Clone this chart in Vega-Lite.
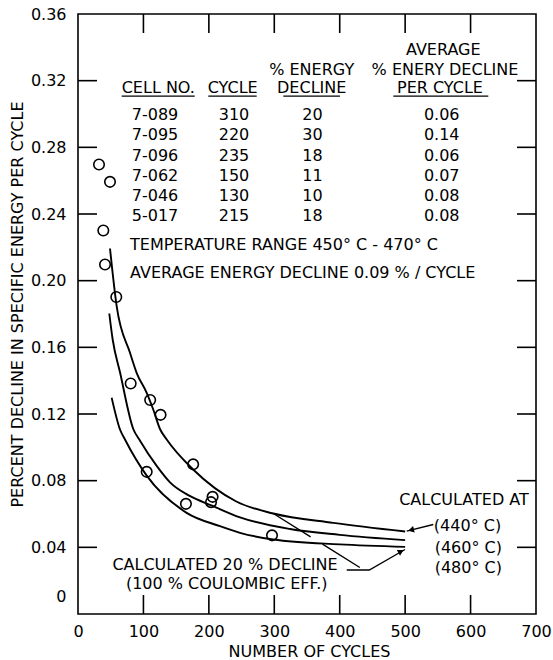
{
  "$schema": "https://vega.github.io/schema/vega-lite/v6.json",
  "width": 458,
  "height": 600,
  "autosize": {"type": "none"},
  "padding": {"left": 78, "top": 14, "right": 17, "bottom": 46},
  "background": "white",
  "config": {
    "view": {"stroke": "black", "strokeWidth": 1.6},
    "font": "DejaVu Sans",
    "text": {"font": "DejaVu Sans", "fontSize": 16, "color": "black"},
    "axis": {
      "domain": false,
      "ticks": false,
      "grid": false,
      "labelColor": "black",
      "labelFontSize": 16,
      "labelFont": "DejaVu Sans",
      "titleColor": "black",
      "titleFontSize": 16,
      "titleFont": "DejaVu Sans",
      "titleFontWeight": "normal",
      "labelFlush": false,
      "labelOverlap": false
    }
  },
  "datasets": {
    "pts": [
      {"c": 32.1, "v": 0.2697}, {"c": 48.9, "v": 0.2593}, {"c": 38.7, "v": 0.2301},
      {"c": 41.3, "v": 0.2097}, {"c": 58.5, "v": 0.1902}, {"c": 80.5, "v": 0.1383},
      {"c": 110.3, "v": 0.1284}, {"c": 126.2, "v": 0.1195}, {"c": 176, "v": 0.0898},
      {"c": 105, "v": 0.0853}, {"c": 165, "v": 0.0661}, {"c": 205.7, "v": 0.0703},
      {"c": 203.3, "v": 0.0671}, {"c": 296.5, "v": 0.0472}
    ],
    "curves": [
      {"t": "440", "c": 48.9, "v": 0.2193}, {"t": "440", "c": 59.1, "v": 0.1847},
      {"t": "440", "c": 79.5, "v": 0.1567}, {"t": "440", "c": 89.6, "v": 0.1447},
      {"t": "440", "c": 105, "v": 0.1327}, {"t": "440", "c": 115, "v": 0.1227},
      {"t": "440", "c": 125.3, "v": 0.111}, {"t": "440", "c": 135.6, "v": 0.1047},
      {"t": "440", "c": 176, "v": 0.0867}, {"t": "440", "c": 242, "v": 0.0675},
      {"t": "440", "c": 298.5, "v": 0.0603}, {"t": "440", "c": 390, "v": 0.0547},
      {"t": "440", "c": 500, "v": 0.0495},
      {"t": "460", "c": 47.8, "v": 0.1803}, {"t": "460", "c": 53, "v": 0.1647},
      {"t": "460", "c": 64.2, "v": 0.145}, {"t": "460", "c": 84.5, "v": 0.111},
      {"t": "460", "c": 94.8, "v": 0.104}, {"t": "460", "c": 120, "v": 0.089},
      {"t": "460", "c": 140.6, "v": 0.079}, {"t": "460", "c": 170, "v": 0.071},
      {"t": "460", "c": 205, "v": 0.065}, {"t": "460", "c": 247.6, "v": 0.058},
      {"t": "460", "c": 324, "v": 0.051}, {"t": "460", "c": 400, "v": 0.0475},
      {"t": "460", "c": 500, "v": 0.0443},
      {"t": "480", "c": 51.5, "v": 0.1297}, {"t": "480", "c": 64.2, "v": 0.1107},
      {"t": "480", "c": 71.8, "v": 0.1047}, {"t": "480", "c": 105, "v": 0.083},
      {"t": "480", "c": 166, "v": 0.0607}, {"t": "480", "c": 217, "v": 0.0527},
      {"t": "480", "c": 247.6, "v": 0.0487}, {"t": "480", "c": 298.5, "v": 0.0447},
      {"t": "480", "c": 400, "v": 0.0418}, {"t": "480", "c": 500, "v": 0.0403}
    ],
    "dash": [
      {"c": 298.5, "v": 0.0603}, {"c": 435.6, "v": 0.0267}
    ],
    "leaders": [
      {"g": "a", "o": 1, "c": 410.7, "v": 0.0264}, {"g": "a", "o": 2, "c": 445.2, "v": 0.0264},
      {"g": "a", "o": 3, "c": 499.8, "v": 0.0387},
      {"g": "b", "o": 1, "c": 543, "v": 0.0537}, {"g": "b", "o": 2, "c": 502.4, "v": 0.0497}
    ],
    "arrows": [
      {"c": 509, "v": 0.0504, "a": 256}, {"c": 493.6, "v": 0.0375, "a": 61}
    ],
    "tk": [
      {"g": "b1", "o": 1, "c": 100, "v": 0}, {"g": "b1", "o": 2, "c": 100, "v": 0.0114},
      {"g": "b2", "o": 1, "c": 200, "v": 0}, {"g": "b2", "o": 2, "c": 200, "v": 0.0114},
      {"g": "b3", "o": 1, "c": 300, "v": 0}, {"g": "b3", "o": 2, "c": 300, "v": 0.0114},
      {"g": "b4", "o": 1, "c": 400, "v": 0}, {"g": "b4", "o": 2, "c": 400, "v": 0.0114},
      {"g": "b5", "o": 1, "c": 500, "v": 0}, {"g": "b5", "o": 2, "c": 500, "v": 0.0114},
      {"g": "b6", "o": 1, "c": 600, "v": 0}, {"g": "b6", "o": 2, "c": 600, "v": 0.0114},
      {"g": "t1", "o": 1, "c": 100, "v": 0.36}, {"g": "t1", "o": 2, "c": 100, "v": 0.3486},
      {"g": "t2", "o": 1, "c": 200, "v": 0.36}, {"g": "t2", "o": 2, "c": 200, "v": 0.3486},
      {"g": "t3", "o": 1, "c": 300, "v": 0.36}, {"g": "t3", "o": 2, "c": 300, "v": 0.3486},
      {"g": "t4", "o": 1, "c": 400, "v": 0.36}, {"g": "t4", "o": 2, "c": 400, "v": 0.3486},
      {"g": "t5", "o": 1, "c": 500, "v": 0.36}, {"g": "t5", "o": 2, "c": 500, "v": 0.3486},
      {"g": "t6", "o": 1, "c": 600, "v": 0.36}, {"g": "t6", "o": 2, "c": 600, "v": 0.3486},
      {"g": "l1", "o": 1, "c": 0, "v": 0.04}, {"g": "l1", "o": 2, "c": 29, "v": 0.04},
      {"g": "l2", "o": 1, "c": 0, "v": 0.08}, {"g": "l2", "o": 2, "c": 29, "v": 0.08},
      {"g": "l3", "o": 1, "c": 0, "v": 0.12}, {"g": "l3", "o": 2, "c": 29, "v": 0.12},
      {"g": "l4", "o": 1, "c": 0, "v": 0.16}, {"g": "l4", "o": 2, "c": 29, "v": 0.16},
      {"g": "l5", "o": 1, "c": 0, "v": 0.2}, {"g": "l5", "o": 2, "c": 29, "v": 0.2},
      {"g": "l6", "o": 1, "c": 0, "v": 0.24}, {"g": "l6", "o": 2, "c": 29, "v": 0.24},
      {"g": "l7", "o": 1, "c": 0, "v": 0.28}, {"g": "l7", "o": 2, "c": 29, "v": 0.28},
      {"g": "l8", "o": 1, "c": 0, "v": 0.32}, {"g": "l8", "o": 2, "c": 29, "v": 0.32},
      {"g": "r1", "o": 1, "c": 700, "v": 0.04}, {"g": "r1", "o": 2, "c": 671, "v": 0.04},
      {"g": "r2", "o": 1, "c": 700, "v": 0.08}, {"g": "r2", "o": 2, "c": 671, "v": 0.08},
      {"g": "r3", "o": 1, "c": 700, "v": 0.12}, {"g": "r3", "o": 2, "c": 671, "v": 0.12},
      {"g": "r4", "o": 1, "c": 700, "v": 0.16}, {"g": "r4", "o": 2, "c": 671, "v": 0.16},
      {"g": "r5", "o": 1, "c": 700, "v": 0.2}, {"g": "r5", "o": 2, "c": 671, "v": 0.2},
      {"g": "r6", "o": 1, "c": 700, "v": 0.24}, {"g": "r6", "o": 2, "c": 671, "v": 0.24},
      {"g": "r7", "o": 1, "c": 700, "v": 0.28}, {"g": "r7", "o": 2, "c": 671, "v": 0.28},
      {"g": "r8", "o": 1, "c": 700, "v": 0.32}, {"g": "r8", "o": 2, "c": 671, "v": 0.32}
    ],
    "tc": [
      {"c": 558.3, "v": 0.3387, "s": "AVERAGE"},
      {"c": 357.2, "v": 0.3267, "s": "% ENERGY"},
      {"c": 560.9, "v": 0.3267, "s": "% ENERY DECLINE"},
      {"c": 122.7, "v": 0.3157, "s": "CELL NO."},
      {"c": 236.4, "v": 0.3157, "s": "CYCLE"},
      {"c": 357.2, "v": 0.3157, "s": "DECLINE"},
      {"c": 553.2, "v": 0.3157, "s": "PER CYCLE"},
      {"c": 117.7, "v": 0.2997, "s": "7-089"}, {"c": 238.4, "v": 0.2997, "s": "310"},
      {"c": 358.4, "v": 0.2997, "s": "20"}, {"c": 555.9, "v": 0.2997, "s": "0.06"},
      {"c": 117.7, "v": 0.2874, "s": "7-095"}, {"c": 238.4, "v": 0.2874, "s": "220"},
      {"c": 358.4, "v": 0.2874, "s": "30"}, {"c": 555.9, "v": 0.2874, "s": "0.14"},
      {"c": 117.7, "v": 0.2751, "s": "7-096"}, {"c": 238.4, "v": 0.2751, "s": "235"},
      {"c": 358.4, "v": 0.2751, "s": "18"}, {"c": 555.9, "v": 0.2751, "s": "0.06"},
      {"c": 117.7, "v": 0.2631, "s": "7-062"}, {"c": 238.4, "v": 0.2631, "s": "150"},
      {"c": 358.4, "v": 0.2631, "s": "11"}, {"c": 555.9, "v": 0.2631, "s": "0.07"},
      {"c": 117.7, "v": 0.2508, "s": "7-046"}, {"c": 238.4, "v": 0.2508, "s": "130"},
      {"c": 358.4, "v": 0.2508, "s": "10"}, {"c": 555.9, "v": 0.2508, "s": "0.08"},
      {"c": 117.7, "v": 0.2388, "s": "5-017"}, {"c": 238.4, "v": 0.2388, "s": "215"},
      {"c": 358.4, "v": 0.2388, "s": "18"}, {"c": 555.9, "v": 0.2388, "s": "0.08"},
      {"c": 589.9, "v": 0.0687, "s": "CALCULATED AT"},
      {"c": 595.3, "v": 0.0531, "s": "(440° C)"},
      {"c": 596.5, "v": 0.0397, "s": "(460° C)"},
      {"c": 596.5, "v": 0.0277, "s": "(480° C)"},
      {"c": 224.7, "v": 0.0297, "s": "CALCULATED 20 % DECLINE"},
      {"c": 227.3, "v": 0.0183, "s": "(100 % COULOMBIC EFF.)"}
    ],
    "tl": [
      {"c": 79.5, "v": 0.2217, "s": "TEMPERATURE RANGE 450° C - 470° C"},
      {"c": 79.5, "v": 0.2047, "s": "AVERAGE ENERGY DECLINE 0.09 % / CYCLE"}
    ],
    "ul": [
      {"c": 66.8, "c2": 178.4, "v": 0.3107},
      {"c": 199.1, "c2": 273.1, "v": 0.3107},
      {"c": 313.8, "c2": 400.4, "v": 0.3107},
      {"c": 481.9, "c2": 627.1, "v": 0.3107}
    ]
  },
  "layer": [
    {
      "data": {"name": "pts"},
      "mark": {"type": "point", "shape": "circle", "filled": false, "stroke": "black", "strokeWidth": 1.6, "size": 110, "opacity": 1},
      "encoding": {
        "x": {
          "field": "c", "type": "quantitative", "title": "NUMBER OF CYCLES",
          "scale": {"domain": [0, 700], "nice": false, "zero": false},
          "axis": {
            "orient": "bottom", "values": [0, 100, 200, 300, 400, 500, 600, 700],
            "format": "d", "labelPadding": 17, "labelBaseline": "middle",
            "titleX": 231, "titleY": 37, "titleBaseline": "middle"
          }
        },
        "y": {
          "field": "v", "type": "quantitative", "title": "PERCENT DECLINE IN SPECIFIC ENERGY PER CYCLE",
          "scale": {"domain": [0, 0.36], "nice": false, "zero": false},
          "axis": {
            "orient": "left", "values": [0, 0.04, 0.08, 0.12, 0.16, 0.2, 0.24, 0.28, 0.32, 0.36],
            "labelExpr": "datum.value == 0 ? '0' : format(datum.value, '.2f')",
            "labelPadding": 12, "labelBaseline": "middle",
            "labelOffset": {"condition": {"test": "datum.value == 0", "value": -18}, "value": 0},
            "titleX": -61, "titleY": 290, "titleAngle": -90, "titleBaseline": "middle"
          }
        }
      }
    },
    {
      "data": {"name": "tk"},
      "mark": {"type": "line", "stroke": "black", "strokeWidth": 1.6},
      "encoding": {
        "x": {"field": "c", "type": "quantitative", "title": "NUMBER OF CYCLES", "scale": {"domain": [0, 700], "nice": false, "zero": false}},
        "y": {"field": "v", "type": "quantitative", "title": "PERCENT DECLINE IN SPECIFIC ENERGY PER CYCLE", "scale": {"domain": [0, 0.36], "nice": false, "zero": false}},
        "detail": {"field": "g", "type": "nominal"},
        "order": {"field": "o", "type": "quantitative"}
      }
    },
    {
      "data": {"name": "curves"},
      "mark": {"type": "line", "stroke": "black", "strokeWidth": 1.9, "interpolate": "monotone"},
      "encoding": {
        "x": {"field": "c", "type": "quantitative", "title": "NUMBER OF CYCLES", "scale": {"domain": [0, 700], "nice": false, "zero": false}},
        "y": {"field": "v", "type": "quantitative", "title": "PERCENT DECLINE IN SPECIFIC ENERGY PER CYCLE", "scale": {"domain": [0, 0.36], "nice": false, "zero": false}},
        "detail": {"field": "t", "type": "nominal"}
      }
    },
    {
      "data": {"name": "dash"},
      "mark": {"type": "line", "stroke": "black", "strokeWidth": 1.4, "strokeDash": [44, 14]},
      "encoding": {
        "x": {"field": "c", "type": "quantitative", "title": "NUMBER OF CYCLES", "scale": {"domain": [0, 700], "nice": false, "zero": false}},
        "y": {"field": "v", "type": "quantitative", "title": "PERCENT DECLINE IN SPECIFIC ENERGY PER CYCLE", "scale": {"domain": [0, 0.36], "nice": false, "zero": false}}
      }
    },
    {
      "data": {"name": "leaders"},
      "mark": {"type": "line", "stroke": "black", "strokeWidth": 1.4},
      "encoding": {
        "x": {"field": "c", "type": "quantitative", "title": "NUMBER OF CYCLES", "scale": {"domain": [0, 700], "nice": false, "zero": false}},
        "y": {"field": "v", "type": "quantitative", "title": "PERCENT DECLINE IN SPECIFIC ENERGY PER CYCLE", "scale": {"domain": [0, 0.36], "nice": false, "zero": false}},
        "detail": {"field": "g", "type": "nominal"},
        "order": {"field": "o", "type": "quantitative"}
      }
    },
    {
      "data": {"name": "arrows"},
      "mark": {"type": "point", "shape": "triangle-up", "filled": true, "color": "black", "size": 45, "opacity": 1},
      "encoding": {
        "x": {"field": "c", "type": "quantitative", "title": "NUMBER OF CYCLES", "scale": {"domain": [0, 700], "nice": false, "zero": false}},
        "y": {"field": "v", "type": "quantitative", "title": "PERCENT DECLINE IN SPECIFIC ENERGY PER CYCLE", "scale": {"domain": [0, 0.36], "nice": false, "zero": false}},
        "angle": {"field": "a", "type": "quantitative", "scale": null}
      }
    },
    {
      "data": {"name": "ul"},
      "mark": {"type": "rule", "stroke": "black", "strokeWidth": 1.4},
      "encoding": {
        "x": {"field": "c", "type": "quantitative", "title": "NUMBER OF CYCLES", "scale": {"domain": [0, 700], "nice": false, "zero": false}},
        "x2": {"field": "c2"},
        "y": {"field": "v", "type": "quantitative", "title": "PERCENT DECLINE IN SPECIFIC ENERGY PER CYCLE", "scale": {"domain": [0, 0.36], "nice": false, "zero": false}}
      }
    },
    {
      "data": {"name": "tc"},
      "mark": {"type": "text", "align": "center", "baseline": "middle", "fontSize": 16, "color": "black"},
      "encoding": {
        "x": {"field": "c", "type": "quantitative", "title": "NUMBER OF CYCLES", "scale": {"domain": [0, 700], "nice": false, "zero": false}},
        "y": {"field": "v", "type": "quantitative", "title": "PERCENT DECLINE IN SPECIFIC ENERGY PER CYCLE", "scale": {"domain": [0, 0.36], "nice": false, "zero": false}},
        "text": {"field": "s", "type": "nominal"}
      }
    },
    {
      "data": {"name": "tl"},
      "mark": {"type": "text", "align": "left", "baseline": "middle", "fontSize": 16, "color": "black"},
      "encoding": {
        "x": {"field": "c", "type": "quantitative", "title": "NUMBER OF CYCLES", "scale": {"domain": [0, 700], "nice": false, "zero": false}},
        "y": {"field": "v", "type": "quantitative", "title": "PERCENT DECLINE IN SPECIFIC ENERGY PER CYCLE", "scale": {"domain": [0, 0.36], "nice": false, "zero": false}},
        "text": {"field": "s", "type": "nominal"}
      }
    }
  ]
}
